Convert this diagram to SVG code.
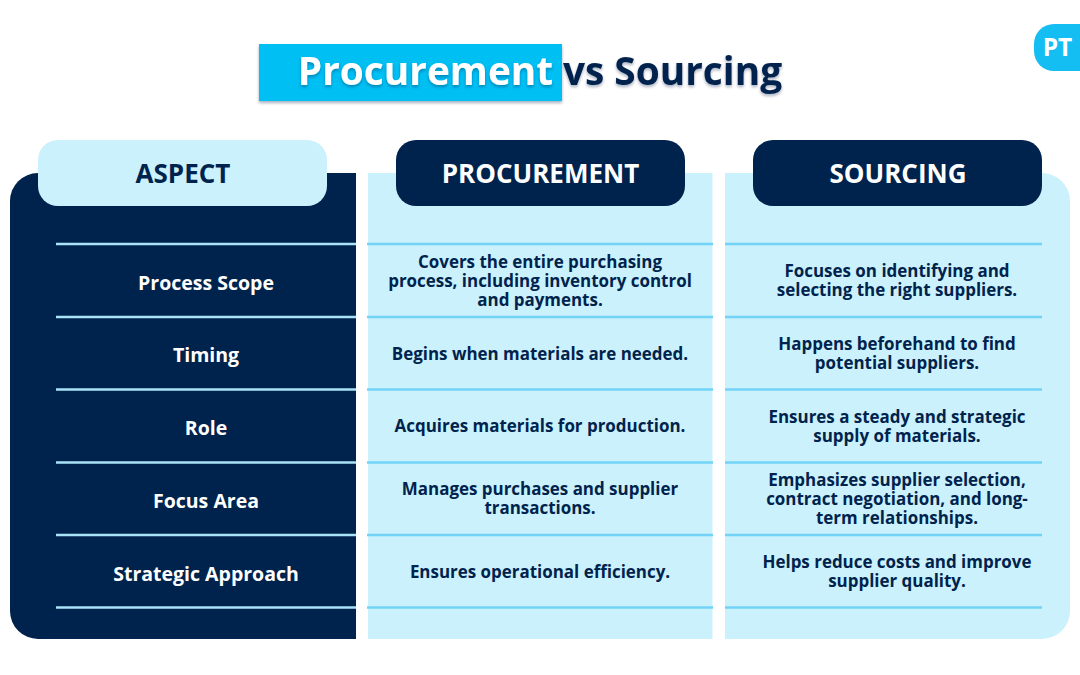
<svg xmlns="http://www.w3.org/2000/svg" width="1080" height="675" viewBox="0 0 1080 675">
<defs>
<filter id="sh" x="-5%" y="-20%" width="110%" height="150%"><feDropShadow dx="0" dy="2" stdDeviation="1.5" flood-color="#001f47" flood-opacity="0.35"/></filter>
</defs>
<style>
text{font-family:"Open Sans","Noto Sans","Liberation Sans",sans-serif;font-weight:700;text-anchor:middle}
.t{font-size:38.8px}
.h{font-size:26px}
.a{font-size:19.500px;fill:#fff}
.c{font-size:16.950px;fill:#00234d}
.navy{fill:#00234d}
.lite{fill:#cbf1fc}
.la{stroke:#a9e3f8;stroke-width:2.6}
.lb{stroke:#72d3f6;stroke-width:2.6}
</style>
<rect width="1080" height="675" fill="#fff"/>
<g id="title">
<rect x="259" y="44" width="303" height="57" fill="#00bff3" filter="url(#sh)"/>
<text class="t" x="425.500" y="84.500" fill="#fff" filter="url(#sh)">Procurement</text>
<text class="t" x="672.500" y="84.500" fill="#00234d" filter="url(#sh)">vs Sourcing</text>
</g>
<g id="badge">
<path d="M1080 24H1054a20 20 0 0 0-20 20V51a20 20 0 0 0 20 20H1080Z" fill="#14bdf2"/>
<text x="1057.500" y="56" fill="#fff" style="font-size:24.5px">PT</text>
</g>
<g id="col-aspect">
<path class="navy" d="M356 173V639H38a28 28 0 0 1-28-28V201a28 28 0 0 1 28-28Z"/>
<rect class="lite" x="38" y="140" width="289" height="66" rx="20"/>
<text class="h navy" x="183" y="183">ASPECT</text>
</g>
<g id="col-procurement">
<rect class="lite" x="368" y="173" width="344.500" height="466"/>
<rect class="navy" x="396" y="140" width="289" height="66" rx="20"/>
<text class="h" x="540.500" y="183" fill="#fff">PROCUREMENT</text>
</g>
<g id="col-sourcing">
<path class="lite" d="M725 173H1042a28 28 0 0 1 28 28V611a28 28 0 0 1-28 28H725Z"/>
<rect class="navy" x="753" y="140" width="289" height="66" rx="20"/>
<text class="h" x="898" y="183" fill="#fff">SOURCING</text>
</g>
<g id="connectors">
<path class="la" d="M56 244H356M56 317H356M56 389.500H356M56 462.500H356M56 535H356M56 607.500H356"/>
<path class="lb" d="M367 244H713M367 317H713M367 389.500H713M367 462.500H713M367 535H713M367 607.500H713"/>
<path class="lb" d="M725 244H1042M725 317H1042M725 389.500H1042M725 462.500H1042M725 535H1042M725 607.500H1042"/>
</g>
<g id="row-1">
<text class="a" x="206" y="290">Process Scope</text>
<text class="c" x="540" y="267.500">Covers the entire purchasing</text>
<text class="c" x="540" y="287">process, including inventory control</text>
<text class="c" x="540" y="306">and payments.</text>
<text class="c" x="897" y="277">Focuses on identifying and</text>
<text class="c" x="897" y="296">selecting the right suppliers.</text>
</g>
<g id="row-2">
<text class="a" x="206" y="362">Timing</text>
<text class="c" x="540" y="359.500">Begins when materials are needed.</text>
<text class="c" x="897" y="350">Happens beforehand to find</text>
<text class="c" x="897" y="369">potential suppliers.</text>
</g>
<g id="row-3">
<text class="a" x="206" y="435">Role</text>
<text class="c" x="540" y="432">Acquires materials for production.</text>
<text class="c" x="897" y="423">Ensures a steady and strategic</text>
<text class="c" x="897" y="442">supply of materials.</text>
</g>
<g id="row-4">
<text class="a" x="206" y="508">Focus Area</text>
<text class="c" x="540" y="495">Manages purchases and supplier</text>
<text class="c" x="540" y="514">transactions.</text>
<text class="c" x="897" y="486">Emphasizes supplier selection,</text>
<text class="c" x="897" y="505">contract negotiation, and long-</text>
<text class="c" x="897" y="524">term relationships.</text>
</g>
<g id="row-5">
<text class="a" x="206" y="580.500">Strategic Approach</text>
<text class="c" x="540" y="577.500">Ensures operational efficiency.</text>
<text class="c" x="897" y="568">Helps reduce costs and improve</text>
<text class="c" x="897" y="587">supplier quality.</text>
</g>
</svg>
